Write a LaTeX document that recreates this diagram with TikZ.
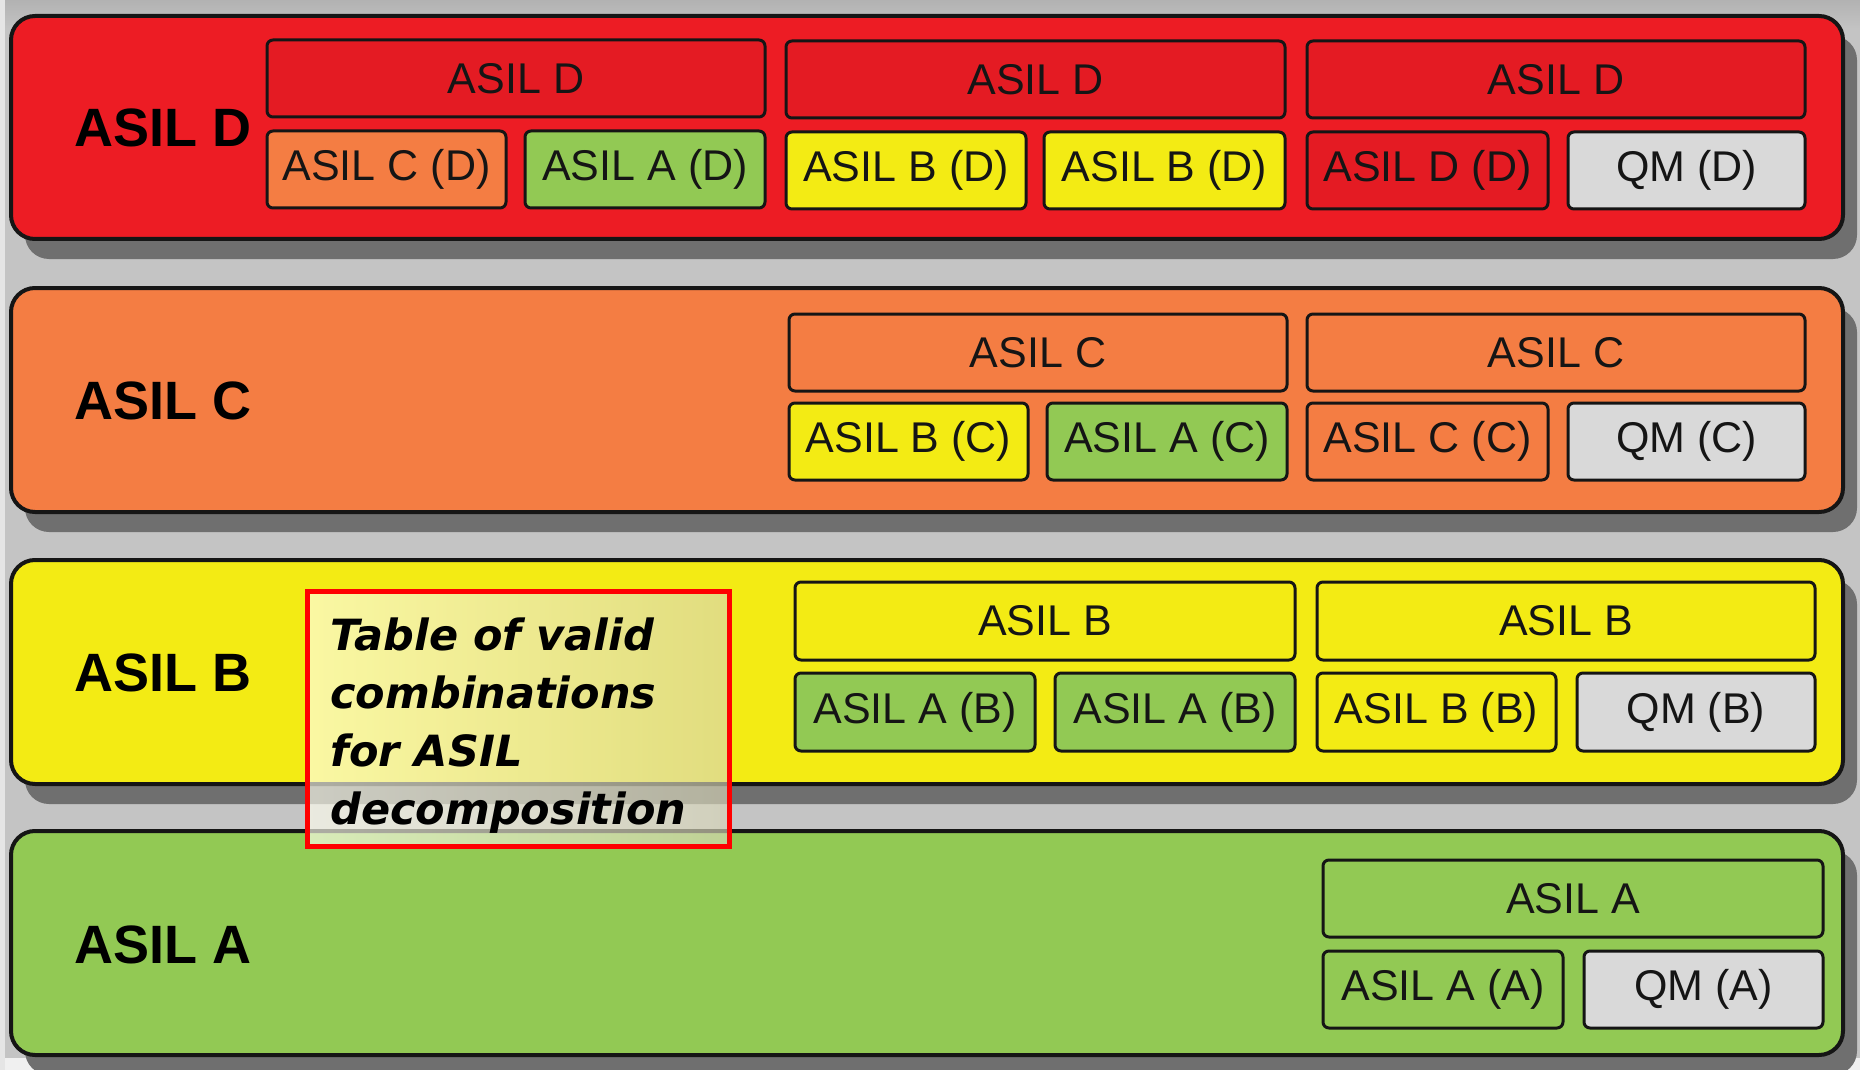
\documentclass[tikz,border=0pt]{standalone}
\usepackage{fontspec}
\setmainfont{Liberation Sans}
\newfontfamily\calloutfont{DejaVu Sans}
\usetikzlibrary{shadows}
\definecolor{bandred}{HTML}{ED1C24}
\definecolor{cellred}{HTML}{E41B23}
\definecolor{bandorange}{HTML}{F47D43}
\definecolor{bandyellow}{HTML}{F3EB14}
\definecolor{bandgreen}{HTML}{92C954}
\definecolor{qmgray}{HTML}{D9D9D9}
\definecolor{shadowgray}{HTML}{6F6F6F}
\definecolor{inkdark}{HTML}{151515}
\definecolor{calloutred}{HTML}{FF0000}
\definecolor{bggray}{HTML}{C4C4C4}
\definecolor{bgtop}{HTML}{B2B2B2}
\definecolor{calloutlight}{HTML}{FFFFF0}
\definecolor{calloutdark}{HTML}{D8D6B8}
\tikzset{
  band/.style={draw=inkdark, line width=2pt, rounded corners=12pt, inner sep=0pt,
    drop shadow={shadow xshift=7pt, shadow yshift=-10pt, fill=shadowgray, opacity=1}},
  bandlabel/.style={font=\fontsize{27}{30}\selectfont\bfseries, text=black, inner sep=0pt, anchor=west},
  cell/.style={draw=inkdark, line width=1.5pt, rounded corners=3pt, inner sep=0pt,
    font=\fontsize{21.5}{24}\selectfont, text=inkdark},
  callout/.style={draw=calloutred, line width=2.5pt, left color=calloutlight, right color=calloutdark,
    fill opacity=0.65, draw opacity=1, text opacity=1,
    minimum width=211pt, minimum height=127.5pt, inner sep=0pt},
  callouttext/.style={font=\fontsize{21.5}{29}\calloutfont\bfseries\itshape, align=left, anchor=west, inner sep=0pt, text=black}
}
\newcommand\cellbox[7]{%
  \pgfmathsetmacro\cbw{(#4-#2)*0.5}%
  \pgfmathsetmacro\cbh{(#5-#3)*0.5}%
  \node[cell, fill=#6, minimum width=\cbw pt, minimum height=\cbh pt] (#1) at ({(#2+#4)/2},{(#3+#5)/2}) {#7};}
\newcommand\bandbox[4]{%
  \pgfmathsetmacro\bbh{(#3-#2)*0.5}%
  \node[band, fill=#4, minimum width=916pt, minimum height=\bbh pt] (#1) at (927,{(#2+#3)/2}) {};}
\begin{document}
\begin{tikzpicture}[x=0.5pt, y=-0.5pt]
\useasboundingbox (0,0) rectangle (1860,1070);
\fill[bggray] (0,0) rectangle (1860,1070);
\shade[top color=bgtop, bottom color=bggray] (0,0) rectangle (1860,30);
\fill[white!94!black] (0,1058) rectangle (1860,1070);
\fill[white!90!black] (0,0) rectangle (5,1070);

% bands
\bandbox{bandD}{16}{239}{bandred}
\bandbox{bandC}{288}{512}{bandorange}
\bandbox{bandB}{560}{784}{bandyellow}
\bandbox{bandA}{831}{1055}{bandgreen}

\node[bandlabel] (labD) at (74,128) {ASIL D};
\node[bandlabel] (labC) at (74,401) {ASIL C};
\node[bandlabel] (labB) at (74,673) {ASIL B};
\node[bandlabel] (labA) at (74,945) {ASIL A};

% ASIL D decompositions
\cellbox{dTa}{267}{40}{765}{117}{cellred}{ASIL D}
\cellbox{dTb}{786}{41}{1285}{118}{cellred}{ASIL D}
\cellbox{dTc}{1307}{41}{1805}{118}{cellred}{ASIL D}
\cellbox{dB1}{267}{131}{506}{208}{bandorange}{ASIL C (D)}
\cellbox{dB2}{525}{131}{765}{208}{bandgreen}{ASIL A (D)}
\cellbox{dB3}{786}{132}{1026}{209}{bandyellow}{ASIL B (D)}
\cellbox{dB4}{1044}{132}{1285}{209}{bandyellow}{ASIL B (D)}
\cellbox{dB5}{1307}{132}{1548}{209}{cellred}{ASIL D (D)}
\cellbox{dB6}{1568}{132}{1805}{209}{qmgray}{QM (D)}

% ASIL C decompositions
\cellbox{cTa}{789}{314}{1287}{391}{bandorange}{ASIL C}
\cellbox{cTb}{1307}{314}{1805}{391}{bandorange}{ASIL C}
\cellbox{cB1}{789}{403}{1028}{480}{bandyellow}{ASIL B (C)}
\cellbox{cB2}{1047}{403}{1287}{480}{bandgreen}{ASIL A (C)}
\cellbox{cB3}{1307}{403}{1548}{480}{bandorange}{ASIL C (C)}
\cellbox{cB4}{1568}{403}{1805}{480}{qmgray}{QM (C)}

% ASIL B decompositions
\cellbox{bTa}{795}{582}{1295}{660}{bandyellow}{ASIL B}
\cellbox{bTb}{1317}{582}{1815}{660}{bandyellow}{ASIL B}
\cellbox{bB1}{795}{673}{1035}{751}{bandgreen}{ASIL A (B)}
\cellbox{bB2}{1055}{673}{1295}{751}{bandgreen}{ASIL A (B)}
\cellbox{bB3}{1317}{673}{1556}{751}{bandyellow}{ASIL B (B)}
\cellbox{bB4}{1577}{673}{1815}{751}{qmgray}{QM (B)}

% ASIL A decompositions
\cellbox{aT}{1323}{860}{1823}{937}{bandgreen}{ASIL A}
\cellbox{aB1}{1323}{951}{1563}{1028}{bandgreen}{ASIL A (A)}
\cellbox{aB2}{1584}{951}{1823}{1028}{qmgray}{QM (A)}

% callout
\node[callout] (callbox) at (518,718.5) {};
\node[callouttext] (calltext) at (330,726) {Table of valid\\combinations\\for ASIL\\decomposition};
\end{tikzpicture}
\end{document}
